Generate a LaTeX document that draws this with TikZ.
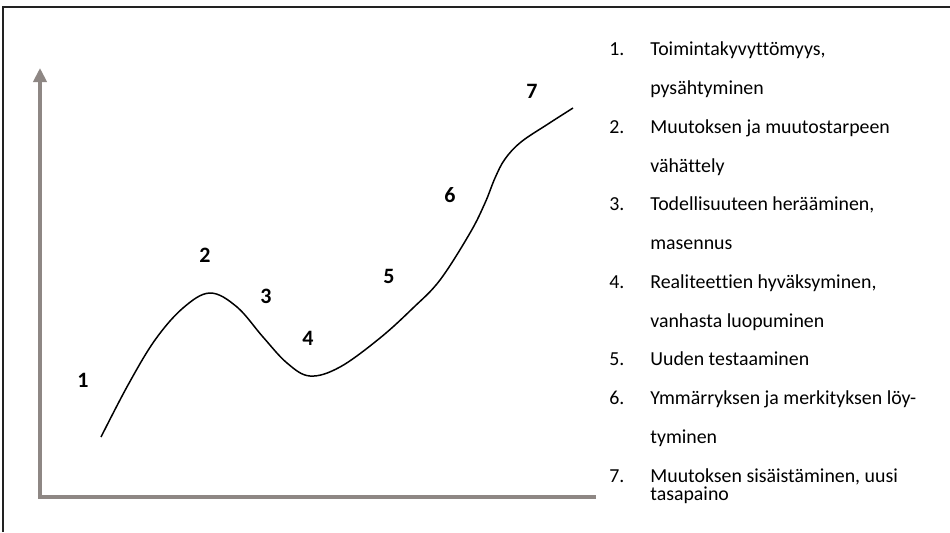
\documentclass[tikz,border=0pt]{standalone}
\usepackage{fontspec}
\setmainfont{Carlito}[Ligatures=NoCommon]
\usetikzlibrary{arrows.meta}

\definecolor{axisgray}{HTML}{8E8784}
\definecolor{framegray}{HTML}{222222}

\begin{document}
\begin{tikzpicture}[
  x=0.02cm, y=-0.02cm,
  frameline/.style={draw=framegray, line width=0.6pt},
  axisline/.style={draw=axisgray, line width=2.3pt, line join=miter,
                   -{Triangle[length=8pt, width=7.5pt]}},
  curveline/.style={draw=black, line width=0.85pt},
  stagenum/.style={font=\fontsize{12.5}{14}\selectfont\bfseries, inner sep=0pt},
  listnum/.style={font=\fontsize{11.3}{13}\selectfont, anchor=base west, inner sep=0pt},
  listtxt/.style={listnum}
]
\useasboundingbox (0,0) rectangle (950,532);

% ================= frame and axes =================
\draw[frameline] (3,532) -- (3,7) -- (951,7);
\draw[axisline] (596,497) -- (40,497) -- (40,68);

% ================= the curve =================
\draw[curveline] plot[smooth, tension=0.6] coordinates {
  (101,437) (128,385) (155,340) (183,308) (210,293) (237,307) (263,337) (287,363)
  (310,376) (340,367) (380,338) (413,308) (440,280) (470,233) (485,203)
  (495,178) (505,159) (521,142) (548,124) (573,108)};

% stage numbers along the curve
\node[stagenum] (s1) at (83,380) {1};
\node[stagenum] (s2) at (205,255) {2};
\node[stagenum] (s3) at (266,296) {3};
\node[stagenum] (s4) at (308,338) {4};
\node[stagenum] (s5) at (389,276) {5};
\node[stagenum] (s6) at (450,195) {6};
\node[stagenum] (s7) at (532,91) {7};

% ================= the list =================
\node[listnum] (n1) at (609,55) {1.};
\node[listtxt] (t1) at (650,55) {Toimintakyvyttömyys,};
\node[listtxt] (t1b) at (650,94) {pysähtyminen};
\node[listnum] (n2) at (609,133) {2.};
\node[listtxt] (t2) at (650,133) {Muutoksen ja muutostarpeen};
\node[listtxt] (t2b) at (650,172) {vähättely};
\node[listnum] (n3) at (609,210) {3.};
\node[listtxt] (t3) at (650,210) {Todellisuuteen herääminen,};
\node[listtxt] (t3b) at (650,249) {masennus};
\node[listnum] (n4) at (609,288) {4.};
\node[listtxt] (t4) at (650,288) {Realiteettien hyväksyminen,};
\node[listtxt] (t4b) at (650,327) {vanhasta luopuminen};
\node[listnum] (n5) at (609,365) {5.};
\node[listtxt] (t5) at (650,365) {Uuden testaaminen};
\node[listnum] (n6) at (609,404) {6.};
\node[listtxt] (t6) at (650,404) {Ymmärryksen ja merkityksen löy-};
\node[listtxt] (t6b) at (650,443) {tyminen};
\node[listnum] (n7) at (609,482) {7.};
\node[listtxt] (t7) at (650,482) {Muutoksen sisäistäminen, uusi};
\node[listtxt] (t7b) at (650,500) {tasapaino};

\end{tikzpicture}
\end{document}
